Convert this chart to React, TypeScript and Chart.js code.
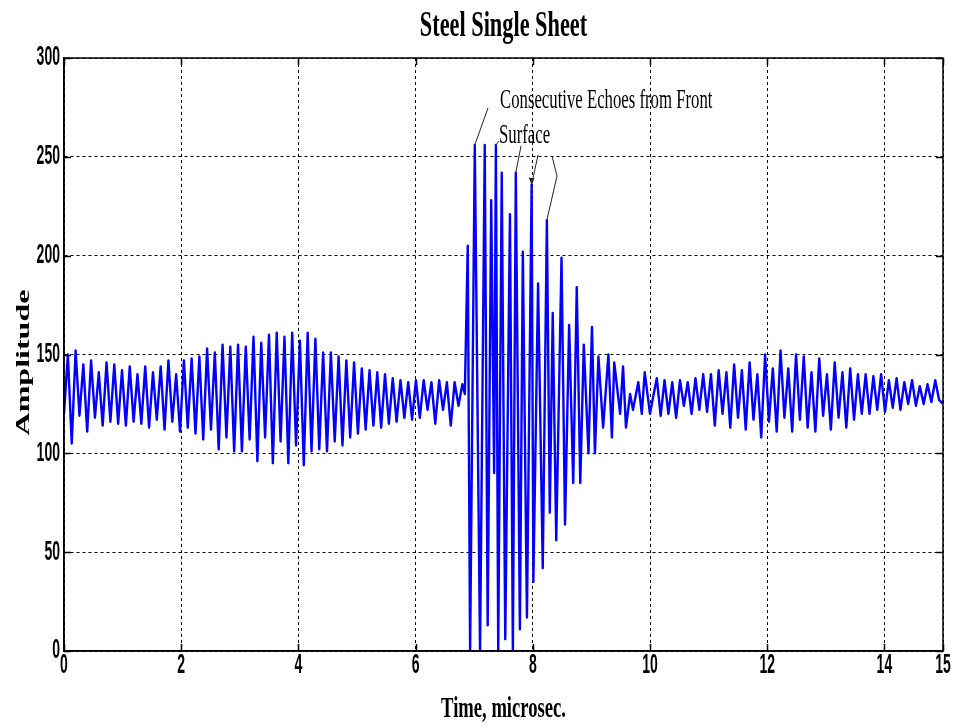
import React, { useEffect, useRef } from "react";
import { Chart, registerables } from "chart.js";

Chart.register(...registerables);

// Received ultrasonic signal, sampled at peaks and troughs.
// Quiet part before the echo burst (uniform time step, µs).
const preEchoStart = 0;
const preEchoStep = 0.066;
const preEchoAmplitude = [
  120, 150, 105, 152, 119, 145, 111, 147, 118, 141,
  114, 146, 116, 145, 115, 142, 114, 144, 116, 140,
  115, 144, 113, 141, 117, 144, 112, 147, 116, 140,
  111, 147, 113, 148, 110, 149, 107, 153, 112, 151,
  102, 155, 108, 154, 101, 155, 101, 154, 107, 159,
  96, 156, 108, 160, 95, 161, 106, 159, 95, 161,
  104, 157, 94, 161, 101, 158, 102, 151, 101, 151,
  106, 149, 104, 147, 108, 146, 110, 143, 112, 142,
  114, 141, 113, 140, 115, 138, 116, 137, 118, 136,
  117, 137, 118, 137, 122, 136, 115, 137, 122, 136,
  114, 136, 124, 135,
];

// Echo burst from the front surface.
const echoTime = [
  6.84, 6.89, 6.93, 7.01, 7.1, 7.18, 7.23, 7.29, 7.34, 7.37,
  7.41, 7.47, 7.53, 7.61, 7.66, 7.71, 7.78, 7.83, 7.9, 7.98,
  8.01, 8.09, 8.17, 8.24, 8.29, 8.34, 8.4, 8.49, 8.55, 8.62,
  8.69, 8.75, 8.81, 8.87, 8.95, 9.01, 9.06, 9.12, 9.2, 9.29,
  9.35, 9.39, 9.49, 9.54, 9.59, 9.66, 9.71, 9.8, 9.86, 9.91,
  10.0,
];
const echoAmplitude = [
  130, 205, 0, 256, 0, 256, 13, 228, 90, 256,
  0, 242, 6, 221, 0, 242, 11, 202, 17, 236,
  35, 186, 42, 218, 70, 171, 56, 199, 64, 165,
  85, 184, 85, 155, 100, 164, 100, 149, 113, 150,
  108, 146, 120, 144, 113, 130, 122, 136, 120, 141,
  120,
];

// Tail after the burst (uniform time step, µs).
const tailStart = 10.05;
const tailStep = 0.066;
const tailAmplitude = [
  128, 138, 119, 137, 120, 136, 118, 137, 124, 136,
  120, 138, 122, 140, 121, 140, 114, 142, 120, 141,
  113, 145, 118, 142, 112, 146, 117, 140, 108, 150,
  116, 143, 111, 152, 118, 143, 111, 150, 117, 149,
  113, 141, 111, 148, 119, 140, 112, 146, 118, 141,
  113, 143, 117, 140, 120, 140, 120, 139, 122, 140,
  121, 137, 123, 138, 122, 136, 125, 137, 124, 134,
  125, 135, 126, 137, 127, 125,
];

// Indices of the echo peaks picked out by the note.
const notedEchoes = [3, 9, 15, 19, 23];

const xTickValues = [0, 2, 4, 6, 8, 10, 12, 14, 15];
const yTickValues = [0, 50, 100, 150, 200, 250, 300];

const chartTitle = "Steel Single Sheet";
const xAxisTitle = "Time, microsec.";
const yAxisTitle = "Amplitude";
const noteLines = ["Consecutive Echoes from Front", "Surface"];

// Horizontal squeeze applied to the text.
const SX = 0.62;
const TICK_SX = 0.52;

function narrowText(
  ctx: CanvasRenderingContext2D,
  text: string,
  x: number,
  y: number,
  font: string,
  align: CanvasTextAlign,
  baseline: CanvasTextBaseline,
  rotate = false,
  sx = SX
) {
  ctx.save();
  ctx.translate(x, y);
  ctx.scale(sx, 1);
  if (rotate) ctx.rotate(-Math.PI / 2);
  ctx.font = font;
  ctx.textAlign = align;
  ctx.textBaseline = baseline;
  ctx.fillStyle = "#000";
  ctx.fillText(text, 0, 0);
  ctx.restore();
}

const decorations = {
  id: "decorations",
  afterDraw(chart: any) {
    const { ctx, chartArea: a, scales } = chart;
    const xs = scales.x;
    const ys = scales.y;

    ctx.save();
    // short inward tick marks on all four sides
    ctx.strokeStyle = "#000";
    ctx.lineWidth = 1.5;
    ctx.beginPath();
    xTickValues.forEach((v) => {
      const px = Math.round(xs.getPixelForValue(v)) + 0.5;
      ctx.moveTo(px, a.bottom);
      ctx.lineTo(px, a.bottom - 7);
      ctx.moveTo(px, a.top);
      ctx.lineTo(px, a.top + 7);
    });
    yTickValues.forEach((v) => {
      const py = Math.round(ys.getPixelForValue(v)) + 0.5;
      ctx.moveTo(a.left, py);
      ctx.lineTo(a.left + 7, py);
      ctx.moveTo(a.right, py);
      ctx.lineTo(a.right - 7, py);
    });
    ctx.stroke();

    // axes box
    ctx.lineWidth = 1.5;
    ctx.strokeRect(a.left, a.top, a.right - a.left, a.bottom - a.top);
    ctx.restore();

    // tick labels
    const tickFont = 'bold 27px "Liberation Sans", Arial, sans-serif';
    yTickValues.forEach((v) => {
      narrowText(ctx, String(v), a.left - 4, ys.getPixelForValue(v), tickFont, "right", "middle", false, TICK_SX);
    });
    xTickValues.forEach((v) => {
      narrowText(ctx, String(v), xs.getPixelForValue(v), a.bottom + 22, tickFont, "center", "alphabetic", false, TICK_SX);
    });

    // titles
    const serifBold = (s: number) => `bold ${s}px "Liberation Serif", "Times New Roman", serif`;
    narrowText(ctx, chartTitle, (a.left + a.right) / 2, 36, serifBold(36), "center", "alphabetic");
    narrowText(ctx, xAxisTitle, (a.left + a.right) / 2, 717, serifBold(30), "center", "alphabetic");
    narrowText(ctx, yAxisTitle, 29, (a.top + a.bottom) / 2 + 8, serifBold(32), "center", "alphabetic", true);

    // note and its leader lines
    const noteX = a.left + 436;
    const noteY = a.top + 50;
    const noteFont = '27px "Liberation Serif", "Times New Roman", serif';
    narrowText(ctx, noteLines[0], noteX, noteY, noteFont, "left", "alphabetic");
    narrowText(ctx, noteLines[1], noteX - 1, noteY + 35, noteFont, "left", "alphabetic");

    const tip = (k: number) => ({
      x: xs.getPixelForValue(echoTime[notedEchoes[k]]),
      y: ys.getPixelForValue(echoAmplitude[notedEchoes[k]]),
    });
    const leaders: Array<Array<[number, number]>> = [
      [[-12, 0]],
      [[-1, 33]],
      [[21, 38]],
      [[38, 47]],
      [[52, 48], [57, 68]],
    ];
    ctx.save();
    ctx.strokeStyle = "#222";
    ctx.fillStyle = "#222";
    ctx.lineWidth = 1;
    leaders.forEach((pts, k) => {
      const t = tip(k);
      ctx.beginPath();
      ctx.moveTo(noteX + pts[0][0], noteY + pts[0][1]);
      for (let i = 1; i < pts.length; i++) ctx.lineTo(noteX + pts[i][0], noteY + pts[i][1]);
      ctx.lineTo(t.x, t.y);
      ctx.stroke();
    });
    // arrow head on the fourth leader
    const t4 = tip(3);
    ctx.beginPath();
    ctx.moveTo(t4.x, t4.y);
    ctx.lineTo(t4.x - 3, t4.y - 7);
    ctx.lineTo(t4.x + 3, t4.y - 6);
    ctx.closePath();
    ctx.fill();
    ctx.restore();
  },
};

export default function App() {
  const ref = useRef<HTMLCanvasElement>(null);

  useEffect(() => {
    const canvas = ref.current;
    if (!canvas) return;

    const signal = [
      ...preEchoAmplitude.map((a, i) => ({ x: preEchoStart + i * preEchoStep, y: a })),
      ...echoTime.map((t, i) => ({ x: t, y: echoAmplitude[i] })),
      ...tailAmplitude.map((a, i) => ({ x: tailStart + i * tailStep, y: a })),
    ];

    const gridOpts = { color: "#000", lineWidth: 1, drawTicks: false };
    const borderOpts = { display: true, color: "#000", width: 1.5, dash: [3, 3] };

    const chart = new Chart(canvas, {
      type: "line",
      data: {
        datasets: [
          {
            data: signal,
            borderColor: "#0000ff",
            borderWidth: 2.4,
            borderJoinStyle: "round",
            pointRadius: 0,
            tension: 0,
            fill: false,
          },
        ],
      },
      options: {
        animation: false,
        responsive: false,
        maintainAspectRatio: false,
        layout: { padding: { left: 64, right: 10, top: 58, bottom: 77 } },
        plugins: {
          legend: { display: false },
          title: { display: false },
          tooltip: { enabled: false },
        },
        scales: {
          x: {
            type: "linear",
            min: 0,
            max: 15,
            z: 1,
            afterBuildTicks: (s: any) => {
              s.ticks = xTickValues.map((value) => ({ value }));
            },
            ticks: { display: false },
            grid: gridOpts,
            border: borderOpts,
          },
          y: {
            type: "linear",
            min: 0,
            max: 300,
            z: 1,
            afterBuildTicks: (s: any) => {
              s.ticks = yTickValues.map((value) => ({ value }));
            },
            ticks: { display: false },
            grid: gridOpts,
            border: borderOpts,
          },
        },
      } as any,
      plugins: [decorations],
    });

    return () => chart.destroy();
  }, []);

  return (
    <div style={{ position: "absolute", left: 0, top: 0, width: 953, height: 728, background: "#fff" }}>
      <canvas ref={ref} width={953} height={728} style={{ display: "block", width: 953, height: 728 }} />
    </div>
  );
}
